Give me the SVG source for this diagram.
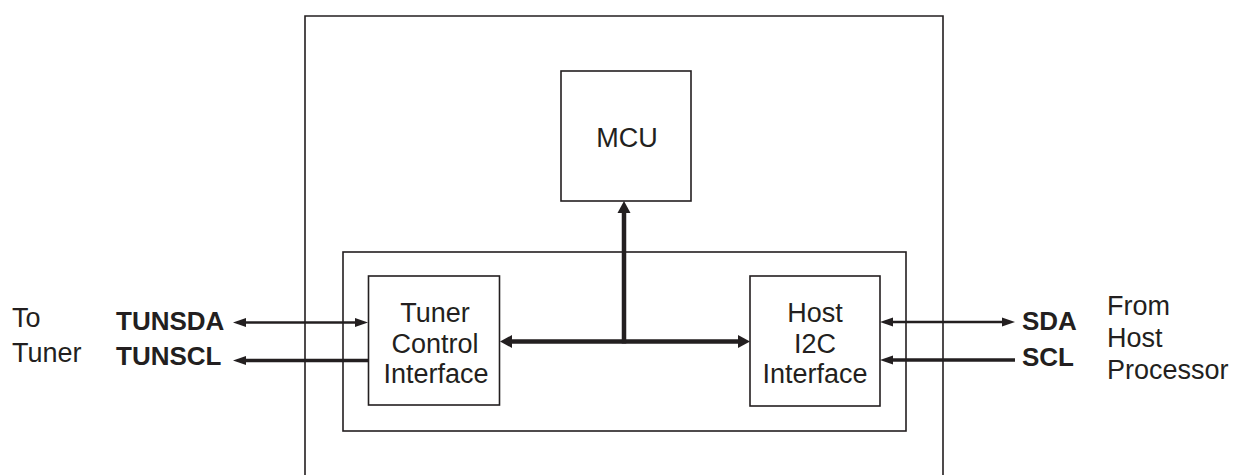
<svg xmlns="http://www.w3.org/2000/svg" width="1237" height="475" viewBox="0 0 1237 475">
<style>
  .box { fill: none; stroke: #231f20; stroke-width: 1.6; }
  .t { font-family: "Liberation Sans", Arial, Helvetica, sans-serif; font-size: 27px; fill: #231f20; }
  .b { font-weight: bold; font-size: 26px; }
  .c { text-anchor: middle; }
  .w { stroke: #231f20; fill: none; }
</style>
<defs>
  <marker id="ah" markerUnits="userSpaceOnUse" markerWidth="13" markerHeight="10" refX="0" refY="5" orient="auto-start-reverse" overflow="visible">
    <path d="M0,0.5 L13,5 L0,9.5 z" fill="#231f20"/>
  </marker>
  <marker id="ahb" markerUnits="userSpaceOnUse" markerWidth="12" markerHeight="13" refX="0" refY="6.5" orient="auto-start-reverse" overflow="visible">
    <path d="M0,0 L12,6.5 L0,13 z" fill="#231f20"/>
  </marker>
</defs>

<g id="chip">
  <path class="box" d="M305,476 V16 H943 V476"/>
</g>
<g id="subsystem">
  <rect class="box" x="343" y="252" width="563" height="179"/>
</g>
<g id="mcu">
  <rect class="box" x="561" y="71" width="130" height="130"/>
  <text class="t c" x="627" y="147">MCU</text>
</g>
<g id="tuner-control">
  <rect class="box" x="368.5" y="276" width="131" height="129"/>
  <text class="t c" x="435" y="322">Tuner</text>
  <text class="t c" x="435" y="353">Control</text>
  <text class="t c" x="436" y="383">Interface</text>
</g>
<g id="host-i2c">
  <rect class="box" x="750" y="276" width="130" height="130"/>
  <text class="t c" x="815" y="322">Host</text>
  <text class="t c" x="815" y="353">I2C</text>
  <text class="t c" x="815" y="383">Interface</text>
</g>
<g id="left-labels">
  <text class="t" x="12" y="327">To</text>
  <text class="t" x="12" y="362">Tuner</text>
  <text class="t b" x="116" y="330">TUNSDA</text>
  <text class="t b" x="116" y="365">TUNSCL</text>
</g>
<g id="right-labels">
  <text class="t b" x="1022" y="330">SDA</text>
  <text class="t b" x="1022" y="366">SCL</text>
  <text class="t" x="1107" y="315">From</text>
  <text class="t" x="1107" y="347">Host</text>
  <text class="t" x="1107" y="379">Processor</text>
</g>

<g id="connectors">
  <line class="w" x1="246" y1="322.5" x2="355" y2="322.5" stroke-width="2.5" marker-start="url(#ah)" marker-end="url(#ah)"/>
  <line class="w" x1="368" y1="360.5" x2="246" y2="360.5" stroke-width="3.5" marker-end="url(#ah)"/>
  <line class="w" x1="893" y1="322" x2="1002" y2="322" stroke-width="2.5" marker-start="url(#ah)" marker-end="url(#ah)"/>
  <line class="w" x1="1015" y1="360" x2="893" y2="360" stroke-width="3.5" marker-end="url(#ah)"/>
  <line class="w" x1="512" y1="341.5" x2="738" y2="341.5" stroke-width="4.5" marker-start="url(#ahb)" marker-end="url(#ahb)"/>
  <line class="w" x1="624" y1="343.5" x2="624" y2="213" stroke-width="4.5" marker-end="url(#ahb)"/>
</g>
</svg>
